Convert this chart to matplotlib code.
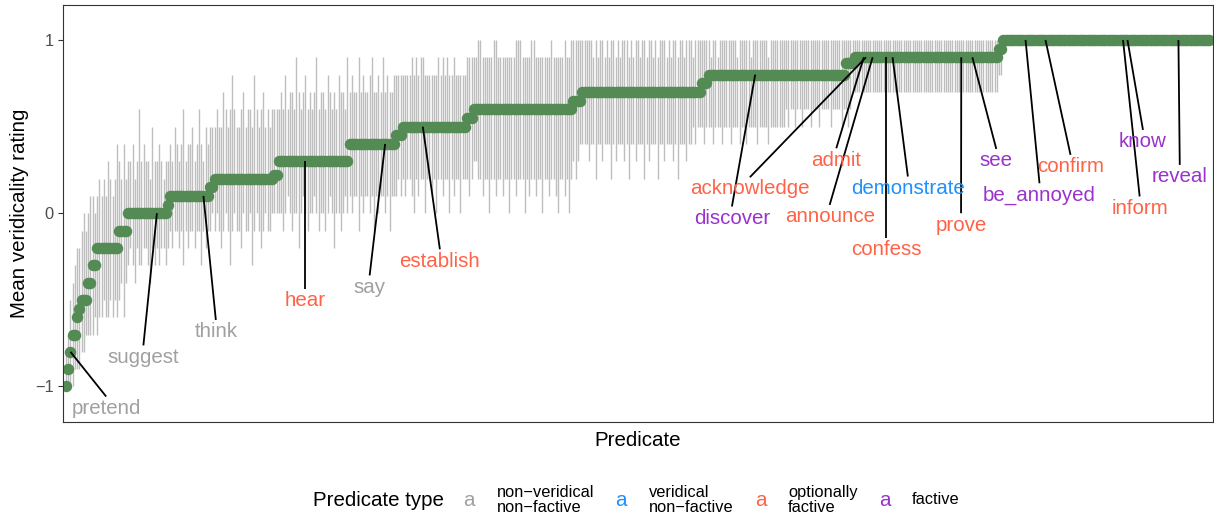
import numpy as np
import matplotlib
matplotlib.use('Agg')
import matplotlib.pyplot as plt

plt.rcParams['font.family'] = ['Liberation Sans', 'DejaVu Sans']

# mean veridicality levels (sorted) and how many predicates sit at each
level_means = [-1.0, -0.9, -0.8, -0.7, -0.6, -0.55, -0.5, -0.4, -0.3, -0.2, -0.1,
               0.0, 0.05, 0.1, 0.15, 0.2, 0.22, 0.3, 0.4, 0.45, 0.5, 0.55, 0.6,
               0.65, 0.7, 0.75, 0.8, 0.87, 0.9, 0.95, 1.0]
level_counts = [1, 1, 1, 2, 1, 1, 3, 2, 2, 10, 4,
                18, 1, 18, 2, 27, 2, 32, 21, 3, 29, 3, 45,
                4, 54, 3, 62, 4, 65, 2, 94]

# 95% CI bounds per predicate, in tenths, grouped by level
ci_high = [
    [-8], [-7], [-5], [-4, -3], [-2], [-2], [-1, 0, -1], [0, 1], [1, 0],
    [1, 2, 1, 2, 1, 3, 2, 1, 2, 4],
    [3, 2, 4, 2],
    [3, 3, 4, 2, 3, 6, 3, 4, 3, 3, 2, 5, 3, 3, 4, 3, 2, 3],
    [3],
    [4, 3, 5, 4, 3, 4, 6, 3, 4, 4, 5, 3, 4, 6, 4, 3, 5, 4],
    [5, 5],
    [5, 6, 5, 5, 7, 6, 5, 6, 8, 6, 5, 5, 6, 7, 5, 6, 6, 5, 8, 6, 5, 6, 7, 5, 6, 5, 6],
    [6, 6],
    [6, 7, 6, 8, 6, 7, 7, 6, 9, 7, 6, 7, 8, 6, 7, 6, 7, 9, 6, 7, 7, 6, 8, 7, 6, 7,
     6, 8, 7, 7, 6, 9],
    [7, 8, 7, 7, 9, 7, 8, 7, 7, 8, 9, 7, 7, 8, 7, 9, 7, 8, 7, 7, 8],
    [8, 8, 8],
    [8, 8, 8, 8, 9, 8, 9, 8, 9, 9, 8, 8, 8, 8, 8, 8, 9, 8, 9, 8, 9, 8, 8, 9, 8, 8,
     8, 8, 8],
    [9, 9, 9],
    [9, 9, 10, 10, 9, 9, 9, 9, 9, 10, 10, 9, 9, 9, 9, 9, 9, 9, 9, 10, 10, 10, 9, 9,
     9, 9, 10, 10, 9, 9, 9, 9, 9, 9, 9, 10, 9, 9, 9, 9, 9, 10, 9, 9, 10],
    [10, 10, 10, 10],
    [10, 10, 10, 10, 10, 9, 10, 9, 10, 10, 9, 10, 9, 10, 10, 9, 10, 9, 10, 10, 10,
     9, 10, 9, 10, 10, 9, 10, 10, 9, 10, 10, 9, 10, 9, 10, 10, 10, 9, 10, 9, 10,
     10, 9, 10, 10, 9, 10, 10, 10, 9, 10, 10, 10],
    [10, 10, 10],
    [10, 9, 10, 10, 9, 10, 10, 10, 10, 10, 10, 10, 10, 9, 10, 10, 10, 10, 10, 9,
     10, 10, 10, 10, 10, 10, 10, 9] + [10] * 34,
    [10, 10, 10, 10],
    [10] * 65,
    [10, 10],
    [10] * 94,
]
ci_low = [
    [-10], [-10], [-10], [-10, -9], [-9], [-9], [-8, -8, -7], [-7, -7], [-7, -6],
    [-7, -6, -6, -5, -6, -6, -5, -6, -5, -6],
    [-5, -4, -6, -4],
    [-3, -2, -3, -4, -2, -3, -3, -2, -2, -3, -4, -2, -3, -2, -3, -2, -2, -3],
    [-2],
    [-1, -2, -1, -1, -2, -1, -3, -1, -2, -1, -1, -2, -1, -1, -3, -1, -2, -1],
    [-1, 0],
    [-1, 0, -1, -2, -1, 0, -1, -3, -1, 0, -1, -1, -2, 0, -1, -1, 0, -3, -1, 0, -1,
     -2, -1, 0, -1, -1, 0],
    [0, 0],
    [0, 0, -1, 0, 1, 0, -1, 0, 0, -2, 0, 1, 0, -1, 0, 0, 1, 0, -1, 0, 0, -1, 0, 1,
     0, -2, 0, 0, -1, 0, 1, 0],
    [1, 0, 1, 1, -1, 1, 0, 1, 1, 0, 1, -1, 1, 0, 1, 1, 0, 1, -1, 1, 1],
    [1, 2, 1],
    [2, 1, 2, 2, 1, 0, 2, 1, 2, 2, 0, 2, 2, 1, 2, 0, 2, 2, 1, 2, 2, 0, 2, 1, 2, 2,
     0, 2, 2],
    [2, 1, 2],
    [3, 3, 2, 2, 1, 2, 2, 0, 2, 2, 1, 2, 2, 1, 2, 2, 0, 2, 2, 1, 2, 2, 2, 0, 2, 1,
     2, 2, 1, 2, 2, 0, 2, 2, 1, 2, 2, 1, 0, 2, 2, 1, 2, 0, 2],
    [3, 2, 3, 4],
    [4, 4, 4, 3, 4, 4, 2, 4, 4, 3, 4, 4, 4, 2, 4, 3, 4, 4, 4, 3, 4, 2, 4, 4, 3, 4,
     4, 4, 2, 4, 3, 4, 4, 4, 2, 4, 4, 3, 4, 4, 4, 3, 4, 2, 4, 4, 4, 3, 4, 4, 5, 4,
     5, 5],
    [5, 4, 5],
    [5, 5, 4, 5, 5, 5, 4, 5, 5, 5, 4, 5, 5, 5, 4, 5, 5, 4, 5, 5, 5, 5, 4, 5, 5, 5,
     5, 4, 5, 5, 5, 5, 5, 5, 5, 6, 5, 6, 6, 5, 6, 6, 5, 6, 6, 6, 5, 6, 6, 6, 5, 6,
     6, 6, 6, 5, 6, 6, 6, 6, 5, 6],
    [6, 5, 6, 7],
    [7] * 65,
    [8, 8],
    [10] * 94,
]

# labelled predicates: name, type, rank position, label position (rank, rating)
label_names = ['pretend', 'suggest', 'think', 'hear', 'say', 'establish',
               'acknowledge', 'discover', 'admit', 'announce', 'demonstrate',
               'confess', 'prove', 'see', 'be_annoyed', 'confirm', 'know',
               'inform', 'reveal']
label_types = ['nvnf', 'nvnf', 'nvnf', 'of', 'nvnf', 'of',
               'of', 'f', 'of', 'of', 'vnf',
               'of', 'of', 'f', 'f', 'of', 'f',
               'of', 'f']
label_rank = [2, 41, 62, 108, 144, 161, 361, 311, 360, 364, 373, 370, 404,
              409, 433, 442, 479, 477, 502]
label_x = [18.1, 34.9, 67.6, 108.0, 137.0, 168.7, 308.6, 300.5, 347.6, 344.6,
           379.9, 370.0, 403.9, 419.8, 439.3, 453.3, 486.0, 484.5, 502.6]
label_y = [-1.126, -0.831, -0.684, -0.505, -0.427, -0.276, 0.140, -0.029, 0.307,
           -0.020, 0.144, -0.212, -0.068, 0.303, 0.105, 0.269, 0.413, 0.029, 0.211]

type_colors = {'nvnf': '#A0A0A0', 'vnf': '#1E90FF', 'of': '#FF6347', 'f': '#9A32CD'}
legend_labels = ['non\u2212veridical\nnon\u2212factive', 'veridical\nnon\u2212factive',
                 'optionally\nfactive', 'factive']

means = np.repeat(level_means, level_counts)
hi = np.concatenate([np.array(h) for h in ci_high]) / 10
lo = np.concatenate([np.array(l) for l in ci_low]) / 10
n = len(means)
x = np.arange(n)

fig = plt.figure(figsize=(12.14, 5.18), dpi=100)
ax = fig.add_axes([62.5 / 1214, 1 - 422 / 518, (1213 - 62.5) / 1214, (422 - 5) / 518])

keep = hi > lo
ax.vlines(x[keep], lo[keep], hi[keep], color='#BEBEBE', lw=1.0, zorder=1)
ax.scatter(x, means, s=68, color='#548B54', linewidths=0, zorder=2)

for name, t, r, tx, ty in zip(label_names, label_types, label_rank, label_x, label_y):
    ax.plot([r, tx], [means[r], ty + 0.068], color='black', lw=1.3, zorder=3,
            solid_capstyle='butt')
    ax.text(tx, ty, name, ha='center', va='center', fontsize=14.8,
            color=type_colors[t], zorder=4)

ax.set_xlim(-1.6, n - 1 + 1.6)
ax.set_ylim(-1.205, 1.202)
ax.set_xticks([])
ax.set_yticks([-1, 0, 1])
ax.set_yticklabels(['\u22121', '0', '1'])
ax.tick_params(axis='y', length=3.6, width=0.8, labelsize=11.8,
               labelcolor='#4D4D4D', color='#333333', pad=3)
for sp in ax.spines.values():
    sp.set_color('#333333')
    sp.set_linewidth(0.8)

fig.text(638 / 1214, 1 - 440 / 518, 'Predicate', ha='center', va='center', fontsize=14.8)
fig.text(20 / 1214, 1 - 213 / 518, 'Mean veridicality rating', ha='center', va='center',
         rotation=90, fontsize=14.8)

# legend along the bottom
ly = 1 - 500 / 518
fig.text(313 / 1214, ly, 'Predicate type', ha='left', va='center', fontsize=14.8)
key_x = [469, 621, 761, 885]
text_x = [497, 649, 788, 912]
for t, kx, tx, lab in zip(['nvnf', 'vnf', 'of', 'f'], key_x, text_x, legend_labels):
    fig.text(kx / 1214, ly, 'a', ha='center', va='center', fontsize=14.8,
             color=type_colors[t])
    fig.text(tx / 1214, ly, lab, ha='left', va='center', fontsize=11.8,
             linespacing=1.0)

fig.savefig('out.png', dpi=100)
